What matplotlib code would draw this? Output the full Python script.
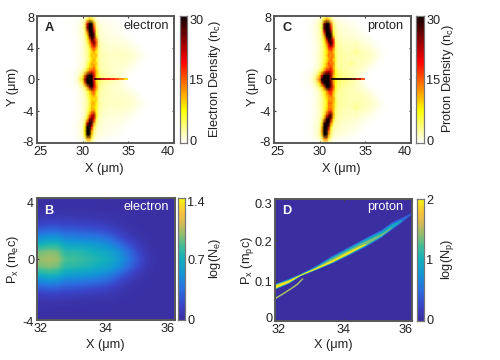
import numpy as np
import matplotlib
matplotlib.use('Agg')
import matplotlib.pyplot as plt
from matplotlib.collections import LineCollection
from matplotlib.colors import LinearSegmentedColormap, Normalize
from matplotlib.transforms import ScaledTranslation

plt.rcParams['font.family'] = ['Liberation Sans', 'DejaVu Sans']
plt.rcParams['mathtext.fontset'] = 'custom'
plt.rcParams['mathtext.rm'] = 'Liberation Sans'
plt.rcParams['mathtext.default'] = 'regular'

W, H = 500, 360
FS = 9.2
FRAME = '#585858'

# ---------- data ----------
density_x = [28, 29, 29.5, 30, 30.25, 30.5, 30.75, 31, 31.25, 31.5, 31.75, 32,
             32.5, 33, 33.5, 34, 34.5, 35, 35.5, 36, 36.5, 37, 37.5, 38]
density_y = [8, 7.5, 7, 6.5, 6, 5.5, 5, 4.5, 4, 3.5, 3, 2.5, 2, 1.5, 1, 0.5, 0,
             -0.5, -1, -1.5, -2, -2.5, -3, -3.5, -4, -4.5, -5, -5.5, -6, -6.5, -7, -7.5, -8]
electron_density = [
 [0,0,0,.5,1,2,3,3,1.5,.5,.3,.2, .1,0,0,0,0,0,0,0,0,0,0,0],
 [0,0,.3,1,2,6,11,9,4,1.5,.8,.5, .3,.2,.1,0,0,0,0,0,0,0,0,0],
 [0,.2,.5,1.5,4,20,32,32,12,3,1.5,1, .6,.5,.4,.2,.1,0,0,0,0,0,0,0],
 [0,.2,.6,2,5,24,36,30,16,4,2,1.2, .8,.6,.5,.4,.2,0,0,0,0,0,0,0],
 [0,.2,.6,1.5,4,14,33,36,22,5,2,1.3, .9,.8,.6,.5,.3,.1,0,0,0,0,0,0],
 [0,.2,.5,1.5,3,8,26,32,28,7,2.5,1.5, 1,.9,.8,.7,.5,.3,.1,0,0,0,0,0],
 [0,.1,.5,1.2,2.5,6,14,28,22,14,3,1.5, 1.2,1,1,.9,.7,.5,.3,.1,0,0,0,0],
 [0,.1,.4,1,2,4,10,18,26,16,4,2, 1.4,1.2,1.2,1.1,1,.8,.5,.2,.1,0,0,0],
 [0,.1,.4,1,2,3.5,6,14,17,12,4,2.2, 1.6,1.4,1.5,1.4,1.3,1.1,.9,.5,.2,0,0,0],
 [0,.1,.4,1,2,3,5,9,12,8,4,2.2, 1.8,1.6,1.7,1.7,1.6,1.5,1.2,.8,.4,.1,0,0],
 [0,.1,.5,1.2,2,3,6,11,9,11,3.5,2.4, 2,1.7,1.8,1.8,1.8,1.6,1.4,1,.5,.15,0,0],
 [0,.1,.4,1,1.8,3,5,8,12,7,4,2.2, 1.8,1.8,1.7,1.7,1.7,1.5,1.2,.8,.3,.1,0,0],
 [0,.1,.5,1.2,2.2,4,7,12,10,10,3.5,2.4, 2,1.7,1.7,1.6,1.5,1.3,.9,.5,.15,0,0,0],
 [0,.1,.5,1.4,2.5,5,9,10,14,8,4,2.4, 2,1.7,1.6,1.5,1.3,1,.5,.2,0,0,0,0],
 [0,.2,.8,2.5,5,10,15,17,16,11,5,2.8, 2.2,1.8,1.5,1.3,1,.5,.15,0,0,0,0,0],
 [0,.3,1.2,5,14,26,36,34,20,10,6,3.5, 2.6,2.2,1.8,1.5,.9,.2,0,0,0,0,0,0],
 [0,.4,2,9,24,38,40,38,18,9,6,4, 3.2,2.8,2.4,1.8,.8,.1,0,0,0,0,0,0],
 [0,.3,1.2,5,15,30,38,34,22,10,5,3.5, 2.6,2.2,1.8,1.5,.9,.2,0,0,0,0,0,0],
 [0,.2,.8,2.5,5,12,24,30,20,13,5,2.8, 2.2,1.8,1.5,1.3,1,.5,.15,0,0,0,0,0],
 [0,.1,.5,1.4,2.5,5,9,14,15,9,4,2.4, 2,1.7,1.6,1.5,1.3,1,.5,.2,0,0,0,0],
 [0,.1,.5,1.2,2.2,4,7,10,13,7,4,2.4, 2,1.8,1.7,1.6,1.5,1.3,.9,.5,.15,0,0,0],
 [0,.1,.4,1,1.8,3,6,9,8,10,3.5,2.2, 1.8,1.8,1.7,1.7,1.7,1.5,1.2,.8,.3,.1,0,0],
 [0,.1,.5,1.2,2,3,5,11,12,7,4,2.4, 2,1.7,1.8,1.8,1.8,1.6,1.4,1,.5,.15,0,0],
 [0,.1,.4,1,2,3,6,10,9,8,3.5,2.2, 1.8,1.6,1.7,1.7,1.6,1.5,1.2,.8,.4,.1,0,0],
 [0,.1,.4,1,2,3.5,7,12,13,7,3,2.2, 1.6,1.4,1.5,1.4,1.3,1.1,.9,.5,.2,0,0,0],
 [0,.1,.4,1,2,5,12,20,24,9,3,2, 1.4,1.2,1.2,1.1,1,.8,.5,.2,.1,0,0,0],
 [0,.1,.5,1.2,3,8,22,26,20,6,2.5,1.5, 1.2,1,1,.9,.7,.5,.3,.1,0,0,0,0],
 [0,.2,.5,1.5,5,20,34,28,12,4,2,1.5, 1,.9,.8,.7,.5,.3,.1,0,0,0,0,0],
 [0,.2,.6,1.5,8,34,38,20,6,2.5,1.5,1.3, .9,.8,.6,.5,.3,.1,0,0,0,0,0,0],
 [0,.2,.6,2,9,36,36,12,4,2,1.2,1.2, .8,.6,.5,.4,.2,0,0,0,0,0,0,0],
 [0,.2,.5,1.5,8,32,34,10,3,1.5,1,1, .6,.5,.4,.2,.1,0,0,0,0,0,0,0],
 [0,0,.3,1,3,11,12,5,2,.8,.6,.5, .3,.2,.1,0,0,0,0,0,0,0,0,0],
 [0,0,0,.5,1,2.5,3,1.5,.6,.3,.2,.2, .1,0,0,0,0,0,0,0,0,0,0,0],
]
proton_density = [
 [0,0,0,.6,1.2,2.5,3,3,1.5,.6,.4,.2, .1,0,0,0,0,0,0,0,0,0,0,0],
 [0,.1,.5,1.5,3,8,13,10,4,2,1,.6, .4,.3,.1,0,0,0,0,0,0,0,0,0],
 [0,.3,1,2.5,5,24,34,34,14,4,2,1.4, 1,.8,.6,.3,.1,0,0,0,0,0,0,0],
 [0,.3,1,2.5,6,28,38,33,18,5,2.5,1.6, 1.2,1,.8,.6,.3,.1,0,0,0,0,0,0],
 [0,.3,1,2,5,20,36,38,24,6,3,2, 1.4,1.2,1,.8,.5,.2,0,0,0,0,0,0],
 [0,.3,.9,2,4,12,30,35,30,9,3,2, 1.6,1.4,1.2,1,.8,.5,.2,0,0,0,0,0],
 [0,.2,.8,2,3.5,8,18,32,26,18,4,2.4, 1.8,1.6,1.5,1.4,1,.8,.5,.2,0,0,0,0],
 [0,.2,.8,1.8,3,6,12,22,30,19,5,2.8, 2,2,1.8,2.2,1.5,1.2,.8,.4,.1,0,0,0],
 [0,.2,.7,1.8,3,5,9,18,20,15,5,3, 2.4,2,2,2,1.8,1.6,1.3,.7,.3,.1,0,0],
 [0,.2,.8,1.8,3,5,8,12,15,10,5,3, 2.6,2.2,2.4,3.5,2.2,2,1.6,1.1,.6,.2,0,0],
 [0,.2,.8,2,3,5,9,14,12,14,5,3, 2.8,2.4,2.4,2.4,2.4,2.1,1.8,1.4,.7,.2,0,0],
 [0,.2,.7,1.8,3,5,8,11,15,10,6,3, 2.6,2.4,2.2,2.2,2.2,2,1.6,1.1,.4,.1,0,0],
 [0,.2,.8,2,3.5,6,10,16,13,14,5,3, 2.8,2.4,3.5,2.2,2,1.8,1.3,.7,.2,0,0,0],
 [0,.2,.9,2.2,4,7,12,13,17,11,6,3.2, 2.8,2.4,2.2,2,1.8,1.4,.8,.3,0,0,0,0],
 [0,.4,1.3,4,8,14,20,22,20,14,7,4, 3,2.6,2.2,1.8,1.4,.8,.2,0,0,0,0,0],
 [0,.6,2,9,20,34,40,38,24,12,7,4.5, 3.5,3,2.4,2,1.2,.3,0,0,0,0,0,0],
 [0,.8,3.5,14,32,42,42,40,22,12,8,5, 4,3.4,2.8,2,.9,.1,0,0,0,0,0,0],
 [0,.6,2,9,22,36,42,38,26,13,7,4.5, 3.5,3,2.4,2,1.2,.3,0,0,0,0,0,0],
 [0,.4,1.3,4,8,16,30,34,24,16,7,4, 3,2.6,2.2,1.8,1.4,.8,.2,0,0,0,0,0],
 [0,.2,.9,2.2,4,7,12,17,18,12,6,3.2, 2.8,2.4,2.2,2,1.8,1.4,.8,.3,0,0,0,0],
 [0,.2,.8,2,3.5,6,10,13,16,10,5,3, 2.8,2.4,2.3,2.2,2,1.8,1.3,.7,.2,0,0,0],
 [0,.2,.7,1.8,3,5,8,12,11,13,5,3, 2.6,2.4,2.2,2.2,2.2,2,1.6,1.1,.4,.1,0,0],
 [0,.2,.8,2,3,5,7,14,15,10,6,3, 2.8,2.4,2.4,2.4,2.4,2.1,1.8,1.4,.7,.2,0,0],
 [0,.2,.8,1.8,3,5,8,13,12,11,5,3, 2.6,2.2,2.4,3.5,2.2,2,1.6,1.1,.6,.2,0,0],
 [0,.2,.7,1.8,3,5,10,15,17,10,4,3, 2.4,2,2,2,1.8,1.6,1.3,.7,.3,.1,0,0],
 [0,.2,.8,1.8,3,7,16,24,28,12,4,2.8, 2,2,1.8,2.2,1.5,1.2,.8,.4,.1,0,0,0],
 [0,.2,.8,2,4,12,28,32,24,9,3,2.4, 1.8,1.6,1.5,1.4,1,.8,.5,.2,0,0,0,0],
 [0,.3,.9,2,7,26,36,30,14,5,2.5,2, 1.6,1.4,1.2,1,.8,.5,.2,0,0,0,0,0],
 [0,.3,1,2,10,36,40,24,8,3,2,2, 1.4,1.2,1,.8,.5,.2,0,0,0,0,0,0],
 [0,.3,1,2.5,12,38,38,15,5,2.5,1.6,1.6, 1.2,1,.8,.6,.3,.1,0,0,0,0,0,0],
 [0,.3,1,2.5,10,34,36,12,4,2,1.4,1.4, 1,.8,.6,.3,.1,0,0,0,0,0,0,0],
 [0,.1,.5,1.5,4,13,14,6,2.5,1,.8,.6, .4,.3,.1,0,0,0,0,0,0,0,0,0],
 [0,0,0,.6,1.2,3,3,1.5,.7,.4,.3,.2, .1,0,0,0,0,0,0,0,0,0,0,0],
]
streak_x = [31.2, 31.6, 32, 32.5, 33, 33.5, 34, 34.5, 35]
electron_streak = [28, 25, 22, 20, 18, 16, 13, 9, 4]
proton_streak = [36, 34, 33, 31, 29, 27, 23, 16, 5]

phase_x = [32, 32.25, 32.5, 32.75, 33, 33.25, 33.5, 33.75, 34, 34.25, 34.5, 34.75, 35, 35.25, 35.5, 35.75, 36]
phase_p = [4, 3.5, 3, 2.5, 2, 1.5, 1, 0.5, 0, -0.5, -1, -1.5, -2, -2.5, -3, -3.5, -4]
electron_log_n = [
 [.02,.02,.02,.02,.02,.02,.02,.02,.02,.02,.02,.02,.02,.02,.02,.02,.02],
 [.03,.03,.03,.03,.03,.03,.03,.02,.02,.02,.02,.02,.02,.02,.02,.02,.02],
 [.07,.08,.08,.07,.07,.06,.06,.05,.05,.04,.03,.02,.02,.02,.02,.02,.02],
 [.15,.17,.17,.15,.15,.14,.13,.12,.10,.08,.05,.03,.02,.02,.02,.02,.02],
 [.30,.32,.32,.28,.28,.26,.25,.23,.20,.15,.09,.05,.03,.02,.02,.02,.02],
 [.50,.53,.53,.45,.44,.42,.41,.39,.35,.28,.18,.11,.06,.03,.02,.02,.02],
 [.72,.76,.76,.64,.62,.61,.59,.56,.51,.43,.32,.21,.11,.05,.02,.02,.02],
 [.93,.96,.94,.78,.78,.76,.72,.68,.64,.57,.45,.32,.19,.08,.03,.02,.02],
 [1.00,1.02,1.00,.86,.84,.81,.78,.74,.70,.62,.51,.36,.22,.10,.04,.02,.02],
 [.95,.97,.94,.80,.79,.76,.73,.68,.64,.57,.45,.31,.19,.08,.03,.02,.02],
 [.74,.78,.76,.64,.62,.60,.58,.54,.49,.41,.30,.19,.10,.05,.02,.02,.02],
 [.50,.53,.51,.43,.43,.41,.39,.37,.33,.25,.17,.10,.05,.03,.02,.02,.02],
 [.28,.31,.30,.26,.25,.24,.22,.20,.18,.12,.08,.04,.03,.02,.02,.02,.02],
 [.13,.14,.14,.12,.12,.11,.10,.09,.08,.06,.04,.03,.02,.02,.02,.02,.02],
 [.05,.05,.05,.05,.04,.04,.04,.03,.03,.03,.02,.02,.02,.02,.02,.02,.02],
 [.03,.03,.02,.02,.02,.02,.02,.02,.02,.02,.02,.02,.02,.02,.02,.02,.02],
 [.02,.02,.02,.02,.02,.02,.02,.02,.02,.02,.02,.02,.02,.02,.02,.02,.02],
]
band_x = [32, 32.39, 32.73, 33.17, 33.65, 34.14, 34.63, 35.11, 35.41, 35.70, 35.99]
blue_top = [.0926, .105, .117, .136, .161, .183, .205, .226, .244, .255, .267]
blue_bottom = [.0787, .0926, .111, .1254, .142, .162, .183, .207, .226, .244, .265]
teal_top = [.0915, .1035, .1155, .134, .158, .180, .202, .222, .239, .250]
teal_bottom = [.0795, .0935, .1115, .1265, .1435, .1635, .1845, .209, .229, .247]
green_top = [.0905, .102, .115, .132, .155, .176, .197, .216, .232]
green_bottom = [.0805, .0945, .112, .1275, .1445, .165, .187, .211, .230]
yellow_top = [.089, .1005, .1145, .131, .150, .172, .191]
yellow_bottom = [.0815, .0955, .1125, .1275, .145, .166, .188]
branch_x = [32, 32.2, 32.44, 32.65, 32.8]
branch_p = [.055, .065, .078, .090, .103]
level_blue, level_teal, level_green, level_yellow, level_branch = 0.45, 0.95, 1.35, 1.92, 1.45

parula = LinearSegmentedColormap.from_list('parula_like', [
    (0.0, '#3b2ea0'), (0.12, '#3a44c8'), (0.25, '#2a6fe0'), (0.38, '#1296d6'),
    (0.5, '#14b0bd'), (0.6, '#3dbd9a'), (0.7, '#8fbf70'), (0.8, '#d8ba52'),
    (0.88, '#f9c23c'), (0.95, '#f6e020'), (1.0, '#f8fa0d')])
hot_r = plt.get_cmap('hot_r')


def rect(l, t, r, b):
    return [l / W, 1 - b / H, (r - l) / W, (b - t) / H]


def px(x, y, s, **kw):
    kw.setdefault('fontsize', FS)
    kw.setdefault('va', 'center')
    fig.text(x / W, 1 - y / H, s, **kw)


def nudge(labels, shifts, axis):
    for lab, s in zip(labels, shifts):
        d = (s / 100, 0) if axis == 'x' else (0, s / 100)
        lab.set_transform(lab.get_transform() + ScaledTranslation(d[0], d[1], fig.dpi_scale_trans))


def style(ax, xt, xl, xs, yt, yl, ys):
    ax.set_xticks(xt, xl)
    ax.set_yticks(yt, yl)
    ax.tick_params(direction='in', length=1.6, width=0.8, color='#444444', top=True, right=True,
                   labelsize=FS, pad=2, labelcolor='#222222')
    for s in ax.spines.values():
        s.set_color(FRAME)
        s.set_linewidth(1.4)
    nudge(ax.get_xticklabels(), xs, 'x')
    nudge(ax.get_yticklabels(), ys, 'y')


def cbar(box, cmap, norm, ticks, labels, shifts, label, label_x):
    cax = fig.add_axes(rect(*box))
    cax.imshow(np.linspace(1, 0, 256)[:, None], cmap=cmap, aspect='auto',
               extent=[0, 1, norm.vmin, norm.vmax])
    cax.set_xticks([])
    cax.yaxis.tick_right()
    cax.set_yticks(ticks, labels)
    cax.tick_params(length=0, labelsize=FS, pad=1.5, labelcolor='#222222')
    for s in cax.spines.values():
        s.set_color('#777777')
        s.set_linewidth(0.9)
    nudge(cax.get_yticklabels(), shifts, 'y')
    px(label_x, (box[1] + box[3]) / 2 - 1, label, rotation=90, ha='center', color='#222222')


def density_panel(box, grid, streak, cmap_box, letter, name, cb_label, label_x, ylab_x, letter_x, name_r):
    ax = fig.add_axes(rect(*box))
    ax.pcolormesh(density_x, density_y, np.array(grid), cmap=hot_r, vmin=0, vmax=30, shading='gouraud')
    pts = np.column_stack([streak_x, np.zeros(len(streak_x))])
    segs = np.stack([pts[:-1], pts[1:]], axis=1)
    lc = LineCollection(segs, cmap=hot_r, norm=Normalize(0, 30), linewidths=1.3)
    lc.set_array(np.array(streak[:-1]))
    ax.add_collection(lc)
    ax.set_xlim(25, 40)
    ax.set_ylim(-8, 8)
    style(ax, [25, 30, 35, 40], ['25', '30', '35', '40'], [3.5, 0, 0, -6],
          [-8, -4, 0, 4, 8], ['-8', '-4', '0', '4', '8'], [1, 0, 0, 0, -2])
    px(letter_x, 28, letter, fontweight='bold', ha='center', color='#222222')
    px(name_r, 26, name, ha='right', color='#222222')
    px((box[0] + box[2]) / 2 - 1, 169, 'X (μm)', ha='center', color='#222222')
    px(ylab_x, 87, 'Y (μm)', rotation=90, ha='center', color='#222222')
    cbar(cmap_box, hot_r, Normalize(0, 30), [0, 15, 30], ['0', '15', '30'], [2, 0, -4], cb_label, label_x)


fig = plt.figure(figsize=(W / 100, H / 100), dpi=100, facecolor='white')

density_panel((37, 16, 174, 143), electron_density, electron_streak, (180, 16, 187, 143), 'A', 'electron',
              'Electron Density ($n_c$)', 215, 13, 49, 169)
density_panel((274, 16, 411, 143), proton_density, proton_streak, (416, 16, 424, 143), 'C', 'proton',
              'Proton Density ($n_c$)', 448, 253, 287, 403)

# Panel B
axb = fig.add_axes(rect(37, 198, 175, 320))
axb.imshow(electron_log_n, cmap=parula, vmin=0, vmax=1.4, aspect='auto', interpolation='bilinear',
           extent=[phase_x[0], phase_x[-1], phase_p[-1], phase_p[0]])
axb.set_xlim(32, 36)
axb.set_ylim(-4, 4)
style(axb, [32, 34, 36], ['32', '34', '36'], [3.5, 0, -7], [-4, 0, 4], ['-4', '0', '4'], [-1, 0, -5])
px(49, 211, 'B', fontweight='bold', ha='center', color='white')
px(169, 207, 'electron', ha='right', color='white')
px(105, 345, 'X (μm)', ha='center', color='#222222')
px(13, 259, '$P_x$ ($m_e$c)', rotation=90, ha='center', color='#222222')
cbar((178, 198, 185, 320), parula, Normalize(0, 1.4), [0, 0.7, 1.4], ['0', '0.7', '1.4'], [1, 0, -3],
     '$\\log(N_e)$', 215)

# Panel D
axd = fig.add_axes(rect(275, 199, 412, 321))
axd.set_facecolor(parula(0.0))
norm_d = Normalize(0, 2)
layers = [(blue_top, blue_bottom, level_blue), (teal_top, teal_bottom, level_teal),
          (green_top, green_bottom, level_green), (yellow_top, yellow_bottom, level_yellow)]
for top, bottom, level in layers:
    axd.fill_between(band_x[:len(top)], bottom, top, color=parula(norm_d(level)), lw=0)
axd.plot(branch_x, branch_p, color=parula(norm_d(level_branch)), lw=1.1)
axd.set_xlim(32, 36)
axd.set_ylim(0, 0.3)
style(axd, [32, 34, 36], ['32', '34', '36'], [4, 0, -6], [0, 0.1, 0.2, 0.3], ['0', '0.1', '0.2', '0.3'],
      [3, -1, -2, -4])
px(287, 211, 'D', fontweight='bold', ha='center', color='white')
px(403, 207, 'proton', ha='right', color='white')
px(333, 345, 'X (μm)', ha='center', color='#222222')
px(247, 260, '$P_x$ ($m_p$c)', rotation=90, ha='center', color='#222222')
cbar((417, 199, 424, 321), parula, norm_d, [0, 1, 2], ['0', '1', '2'], [1, 0, -1], '$\\log(N_p)$', 448)

fig.savefig('out.png', dpi=100)
